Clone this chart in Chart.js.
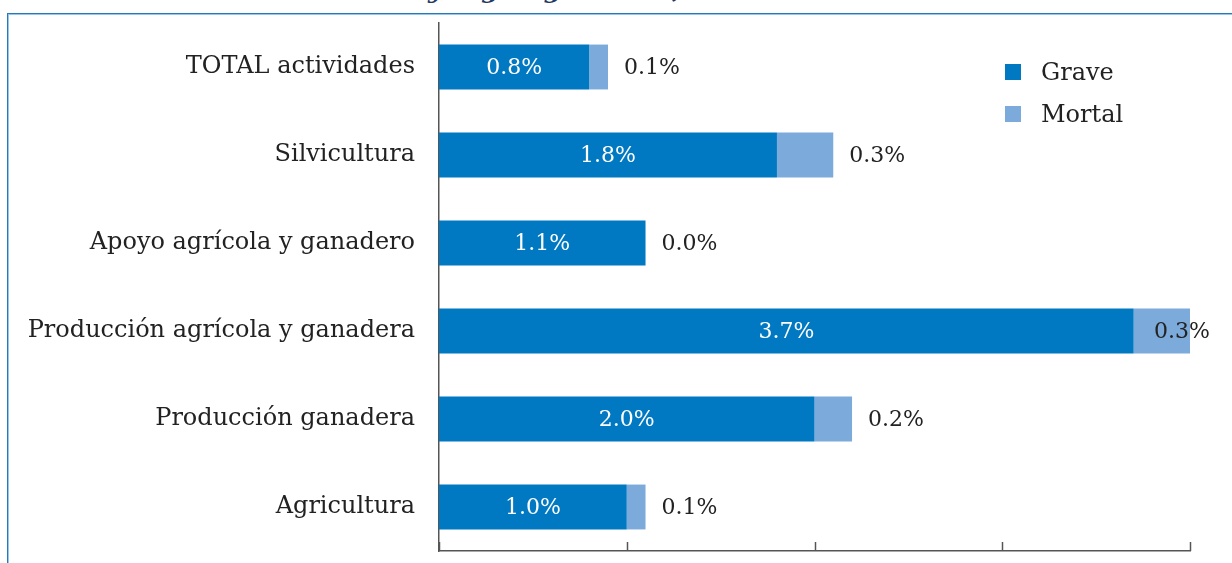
<!DOCTYPE html>
<html lang="es">
<head>
  <meta charset="UTF-8" />
  <title>Accidentes por actividad</title>
  <style>
    * { margin: 0; padding: 0; box-sizing: border-box; }
    body { width: 1232px; height: 563px; overflow: hidden; background: #fff; position: relative; font-family: 'DejaVu Serif', serif; }
    .frame { position: absolute; left: 7px; top: 13px; right: -20px; bottom: -20px; border-top: 1px solid #2a78b8; border-left: 1px solid #2a78b8; }
    .frame::after { content: ''; position: absolute; left: 0; top: 0; right: 0; bottom: 0; border-top: 1px solid #92c8ec; border-left: 1px solid #92c8ec; }
    .title { position: absolute; left: 428px; top: -23px; font: italic bold 25px/26px 'DejaVu Serif', serif; color: #1f3a64; white-space: nowrap; }
    #chart { position: absolute; left: 0; top: 0; }
    .legend { position: absolute; left: 1005px; top: 51px; font-size: 24px; color: #222; }
    .legend div { height: 42px; display: flex; align-items: center; }
    .legend span.sw { width: 16px; height: 16px; margin-right: 20px; display: inline-block; }
  </style>
</head>
<body>
  <div class="title">y según gravedad,</div>
  <div class="frame"></div>
  <canvas id="chart" width="1232" height="563"></canvas>
  <div class="legend" id="legend"></div>

  <script src="https://cdn.jsdelivr.net/npm/chart.js"></script>
  <script>
    const categories = ['TOTAL actividades', 'Silvicultura', 'Apoyo agrícola y ganadero',
      'Producción agrícola y ganadera', 'Producción ganadera', 'Agricultura'];
    const grave = [0.8, 1.8, 1.1, 3.7, 2.0, 1.0];
    const mortal = [0.1, 0.3, 0.0, 0.3, 0.2, 0.1];
    const xMax = 4;

    const colGrave = '#0079c2';
    const colMortal = '#7baadb';
    const fontFam = "'DejaVu Serif', serif";

    // value labels: white inside the grave part, dark after the whole bar
    const valueLabels = {
      id: 'valueLabels',
      afterDatasetsDraw(chart) {
        const ctx = chart.ctx;
        const m0 = chart.getDatasetMeta(0), m1 = chart.getDatasetMeta(1);
        ctx.save();
        ctx.font = '22px ' + fontFam;
        ctx.textBaseline = 'middle';
        m0.data.forEach((bar, i) => {
          const t = grave[i].toFixed(1) + '%';
          ctx.fillStyle = '#fff';
          ctx.textAlign = 'center';
          ctx.fillText(t, (bar.base + bar.x) / 2, bar.y + 1);

          const b1 = m1.data[i];
          const t2 = mortal[i].toFixed(1) + '%';
          const w = ctx.measureText(t2).width;
          ctx.fillStyle = '#222';
          ctx.textAlign = 'left';
          ctx.fillText(t2, Math.min(b1.x + 16, chart.width - 22 - w), b1.y + 1);
        });
        ctx.restore();
      }
    };

    // tick marks on the x axis point up into the plot
    const innerTicks = {
      id: 'innerTicks',
      afterDraw(chart) {
        const ctx = chart.ctx, x = chart.scales.x, bottom = chart.chartArea.bottom;
        ctx.save();
        ctx.strokeStyle = '#555';
        ctx.lineWidth = 1.5;
        x.ticks.forEach(t => {
          const px = Math.round(x.getPixelForValue(t.value)) + 0.5;
          ctx.beginPath();
          ctx.moveTo(px, bottom);
          ctx.lineTo(px, bottom - 9);
          ctx.stroke();
        });
        ctx.restore();
      }
    };

    const chart = new Chart(document.getElementById('chart'), {
      type: 'bar',
      data: {
        labels: categories,
        datasets: [
          { label: 'Grave', data: grave, backgroundColor: colGrave, barPercentage: 0.51, categoryPercentage: 1 },
          { label: 'Mortal', data: mortal, backgroundColor: colMortal, barPercentage: 0.51, categoryPercentage: 1 }
        ]
      },
      options: {
        indexAxis: 'y',
        responsive: false,
        animation: false,
        layout: { padding: { top: 23, right: 42, bottom: 12, left: 0 } },
        plugins: { legend: { display: false }, tooltip: { enabled: false } },
        scales: {
          x: {
            stacked: true, min: 0, max: xMax,
            ticks: { display: false, stepSize: 1 },
            grid: { display: false, drawTicks: false },
            border: { color: '#555', width: 1.5 },
            afterFit(s) { s.height = 0; s.paddingLeft = 0; s.paddingRight = 0; }
          },
          y: {
            stacked: true,
            ticks: { color: '#222', font: { family: fontFam, size: 24 }, padding: 24 },
            grid: { display: false, drawTicks: false },
            border: { color: '#555', width: 1.5 },
            afterFit(s) { s.width = 439; s.paddingTop = 0; s.paddingBottom = 0; }
          }
        }
      },
      plugins: [valueLabels, innerTicks]
    });

    const legend = document.getElementById('legend');
    chart.data.datasets.forEach(ds => {
      const row = document.createElement('div');
      row.innerHTML = '<span class="sw" style="background:' + ds.backgroundColor + '"></span>' + ds.label;
      legend.appendChild(row);
    });
  </script>
</body>
</html>
